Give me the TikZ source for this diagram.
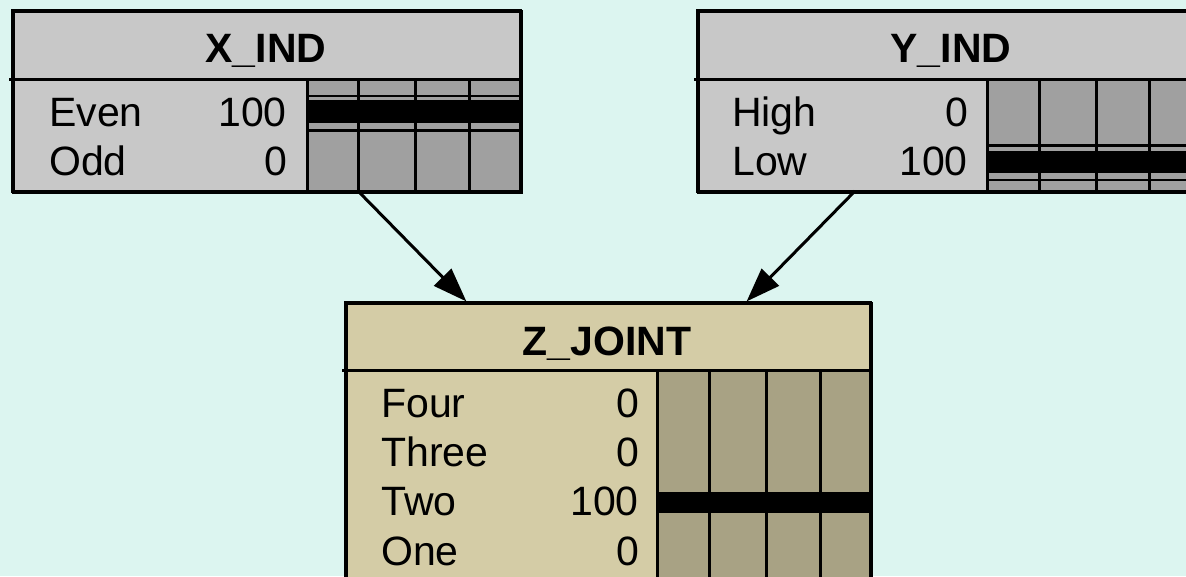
\documentclass[tikz,border=0pt]{standalone}
\usepackage{fontspec}
\setmainfont{Liberation Sans}
\usetikzlibrary{arrows.meta}

\definecolor{bgcyan}{RGB}{220,245,240}
\definecolor{nodegray}{RGB}{200,200,200}
\definecolor{bargray}{RGB}{160,160,160}
\definecolor{nodetan}{RGB}{212,204,166}
\definecolor{bartan}{RGB}{168,162,132}

\tikzset{
  box/.style={draw=black, line width=3pt, anchor=north west, inner sep=0pt},
  title/.style={font=\fontsize{41}{49}\selectfont\bfseries, anchor=base},
  label/.style={font=\fontsize{41}{49}\selectfont, anchor=base west, inner sep=0pt},
  value/.style={font=\fontsize{41}{49}\selectfont, anchor=base east, inner sep=0pt},
  divider/.style={line width=3pt},
  colline/.style={line width=3pt},
  link/.style={line width=3pt, -{Triangle[length=34pt,width=24pt]}, shorten >=-2pt}
}

\begin{document}
\begin{tikzpicture}[x=1pt,y=-1pt]
\useasboundingbox (0,0) rectangle (1186,576);
\clip (0,0) rectangle (1186,576);
\fill[bgcyan] (0,0) rectangle (1186,576);

% ---------- X_IND ----------
\node[box, fill=nodegray, minimum width=508pt, minimum height=181pt] (xbox) at (12,10) {};
\fill[bargray] (307,80) rectangle (520,191);
\fill[black] (307,100) rectangle (520,123);
\draw[line width=2pt] (307,95.5) -- (520,95.5);
\draw[divider] (307,130.5) -- (520,130.5);
\foreach \c in {358,415,469} \draw[colline] (\c,80) -- (\c,191);
\draw[line width=3pt] (307,80) -- (307,191);
\draw[box, fill=none] (12,10) rectangle (520,191);
\draw[divider] (9,79) -- (523,79);
\node[title] (xtitle) at (266,62) {X\_IND};
\node[label] (xeven) at (49,126) {Even};
\node[value] (xevenv) at (287,126) {100};
\node[label] (xodd) at (49,175) {Odd};
\node[value] (xoddv) at (287,175) {0};
\coordinate (xout) at (358,191);

% ---------- Y_IND ----------
\node[box, fill=nodegray, minimum width=513pt, minimum height=181pt] (ybox) at (697,10) {};
\fill[bargray] (987,80) rectangle (1210,191);
\fill[black] (987,151) rectangle (1210,173);
\draw[divider] (987,145) -- (1210,145);
\draw[line width=2pt] (987,179.5) -- (1210,179.5);
\foreach \c in {1039,1096,1149,1200} \draw[colline] (\c,80) -- (\c,191);
\draw[line width=3pt] (987,80) -- (987,191);
\draw[box, fill=none] (697,10) rectangle (1210,191);
\draw[divider] (694,79) -- (1210,79);
\node[title] (ytitle) at (951,62) {Y\_IND};
\node[label] (yhigh) at (732,126) {High};
\node[value] (yhighv) at (968,126) {0};
\node[label] (ylow) at (732,175) {Low};
\node[value] (ylowv) at (968,175) {100};
\coordinate (yout) at (855,191);

% ---------- Z_JOINT ----------
\node[box, fill=nodetan, minimum width=525pt, minimum height=300pt] (zbox) at (345,302) {};
\fill[bartan] (657,372) rectangle (870,600);
\fill[black] (657,492) rectangle (870,513);
\foreach \c in {709,766,820} \draw[colline] (\c,372) -- (\c,600);
\draw[line width=3pt] (657,372) -- (657,600);
\draw[box, fill=none] (345,302) rectangle (870,602);
\draw[divider] (342,370) -- (873,370);
\node[title] (ztitle) at (607,355) {Z\_JOINT};
\node[label] (zfour) at (381,417) {Four};
\node[value] (zfourv) at (639,417) {0};
\node[label] (zthree) at (381,466) {Three};
\node[value] (zthreev) at (639,466) {0};
\node[label] (ztwo) at (381,515) {Two};
\node[value] (ztwov) at (639,515) {100};
\node[label] (zone) at (381,565) {One};
\node[value] (zonev) at (639,565) {0};
\coordinate (zin1) at (465,300);
\coordinate (zin2) at (748,300);

% ---------- links ----------
\draw[link] (xout) -- (zin1);
\draw[link] (yout) -- (zin2);
\end{tikzpicture}
\end{document}
